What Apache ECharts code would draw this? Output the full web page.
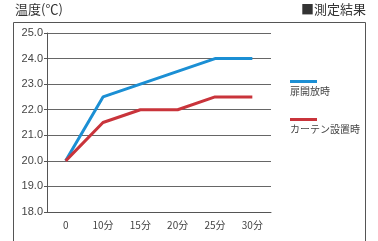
<!DOCTYPE html>
<html>
<head>
<meta charset="utf-8">
<script src="https://cdn.jsdelivr.net/npm/echarts@6/dist/echarts.min.js"></script>
<style>
html,body{margin:0;padding:0;background:#fff;}
#container{width:378px;height:241px;}
</style>
</head>
<body>
<div id="container"></div>
<script>
var categories = ['0', '10分', '15分', '20分', '25分', '30分'];
var doorOpen = [20.0, 22.5, 23.0, 23.5, 24.0, 24.0];
var curtain = [20.0, 21.5, 22.0, 22.0, 22.5, 22.5];
var seriesNames = ['扉開放時', 'カーテン設置時'];
var seriesColors = ['#1b8fd4', '#c9343b'];

var font = '"Noto Sans CJK JP", "Noto Sans", sans-serif';
var myChart = echarts.init(document.getElementById('container'));

var option = {
	animation: false,
	textStyle: { fontFamily: font },
	grid: { left: 47, top: 33, width: 224, height: 179 },
	xAxis: {
		type: 'category',
		data: categories,
		boundaryGap: true,
		axisLine: { lineStyle: { color: '#555', width: 1 } },
		axisTick: { inside: true, length: 3, lineStyle: { color: '#555' } },
		axisLabel: { color: '#444', fontSize: 10, margin: 8, fontFamily: font }
	},
	yAxis: {
		type: 'value',
		min: 18, max: 25, interval: 1,
		axisLine: { show: true, lineStyle: { color: '#555', width: 1 } },
		axisTick: { show: true, length: 3, lineStyle: { color: '#555' } },
		axisLabel: { color: '#444', fontSize: 11, margin: 4, fontFamily: 'Liberation Sans, sans-serif',
			formatter: function (v) { return v.toFixed(1); } },
		splitLine: { lineStyle: { color: '#666', width: 1 } }
	},
	series: [{
		name: seriesNames[0],
		type: 'line',
		data: doorOpen,
		symbol: 'none',
		lineStyle: { color: seriesColors[0], width: 3 }
	}, {
		name: seriesNames[1],
		type: 'line',
		data: curtain,
		symbol: 'none',
		lineStyle: { color: seriesColors[1], width: 3 }
	}],
	graphic: [
		{ type: 'rect', shape: { x: 13.5, y: 22.5, width: 352, height: 230 },
			style: { fill: 'none', stroke: '#555', lineWidth: 1 } },
		{ type: 'text', left: 15, top: 3,
			style: { text: '温度(℃)', fill: '#333', font: '13px ' + font } },
		{ type: 'text', right: 12, top: 3,
			style: { text: '■測定結果', fill: '#333', font: '13px ' + font } },
		{ type: 'rect', shape: { x: 290, y: 80, width: 27, height: 3 }, style: { fill: seriesColors[0] } },
		{ type: 'text', left: 290, top: 86,
			style: { text: seriesNames[0], fill: '#444', font: '10px ' + font } },
		{ type: 'rect', shape: { x: 290, y: 118, width: 27, height: 3 }, style: { fill: seriesColors[1] } },
		{ type: 'text', left: 290, top: 124,
			style: { text: seriesNames[1], fill: '#444', font: '10px ' + font } }
	]
};
myChart.setOption(option);
</script>
</body>
</html>
